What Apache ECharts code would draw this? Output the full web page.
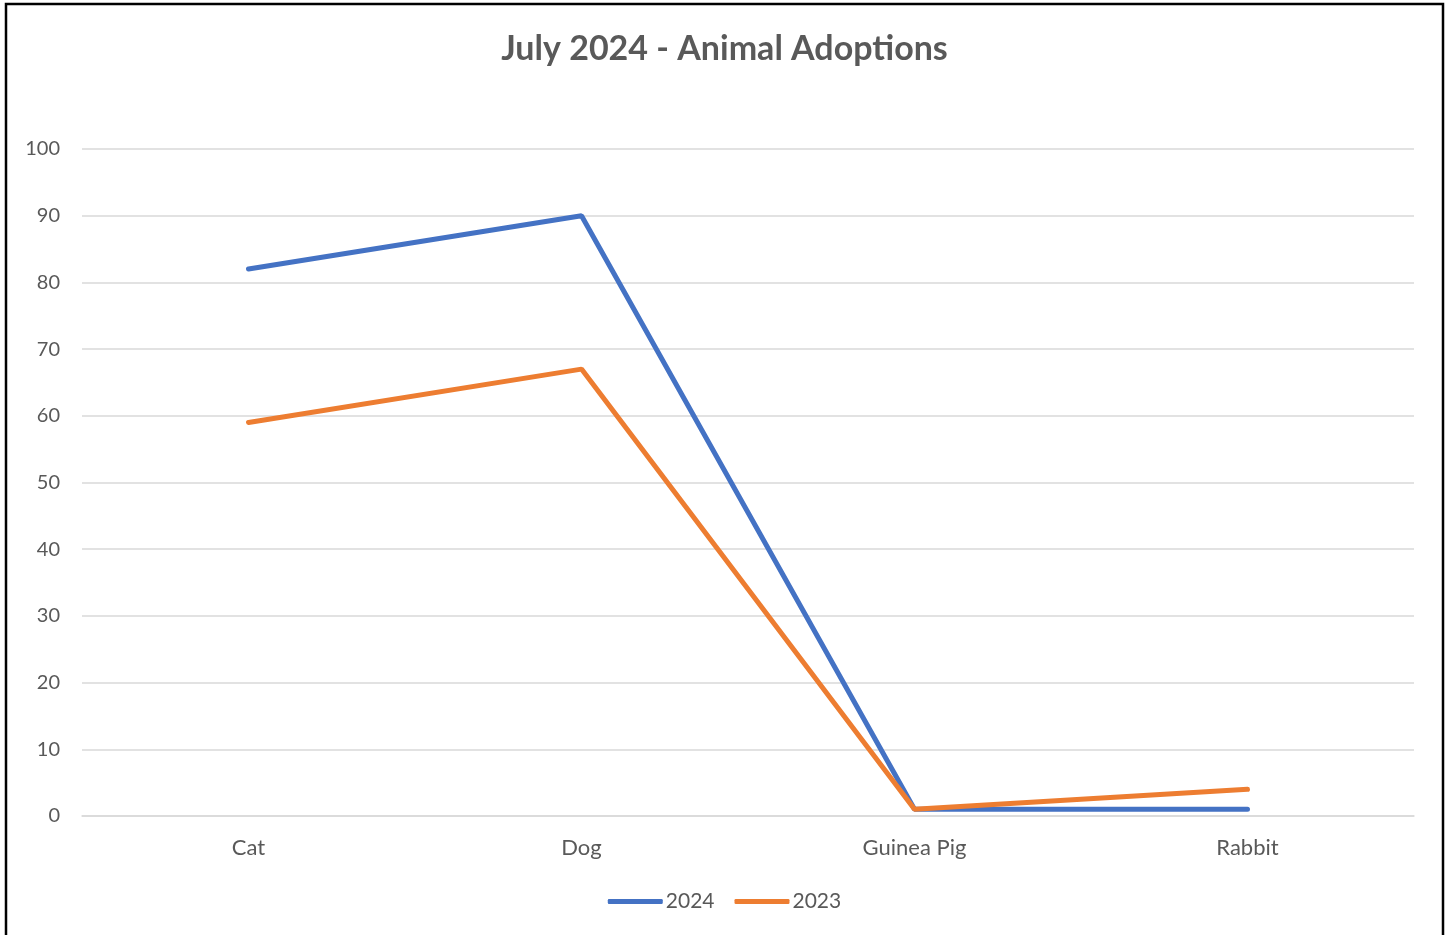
<!DOCTYPE html>
<html>
<head>
<meta charset="utf-8">
<script src="https://cdn.jsdelivr.net/npm/echarts@6/dist/echarts.min.js"></script>
<style>
html,body{margin:0;padding:0;background:#fff;}
#chart{width:1449px;height:935px;}
</style>
</head>
<body>
<div id="chart"></div>
<script>
const categories = ['Cat', 'Dog', 'Guinea Pig', 'Rabbit'];
const series2024 = [82, 90, 1, 1];
const series2023 = [59, 67, 1, 4];
const seriesNames = ['2024', '2023'];

const chart = echarts.init(document.getElementById('chart'));
const font = 'Lato, "Open Sans", sans-serif';
chart.setOption({
  animation: false,
  backgroundColor: '#ffffff',
  title: {
    text: 'July 2024 - Animal Adoptions',
    left: 'center',
    top: 27,
    textStyle: { fontFamily: font, fontSize: 34, fontWeight: 'bold', color: '#595959' }
  },
  legend: {
    data: seriesNames,
    left: 'center',
    top: 886,
    itemWidth: 55,
    itemHeight: 5,
    itemGap: 20,
    icon: 'roundRect',
    textStyle: { fontFamily: font, fontSize: 21, color: '#595959', padding: [0, 0, 0, -2] }
  },
  grid: { left: 82, right: 35, top: 149, bottom: 119, containLabel: false },
  xAxis: {
    type: 'category',
    data: categories,
    boundaryGap: true,
    axisLine: { lineStyle: { color: '#d9d9d9', width: 1.5 } },
    axisTick: { show: false },
    axisLabel: { fontFamily: font, fontSize: 22, color: '#595959', margin: 21 }
  },
  yAxis: {
    type: 'value',
    min: 0, max: 100, interval: 10,
    axisLine: { show: false },
    axisTick: { show: false },
    axisLabel: { fontFamily: font, fontSize: 20, color: '#595959', margin: 22 },
    splitLine: { lineStyle: { color: '#d9d9d9', width: 1.5 } }
  },
  series: [
    { name: seriesNames[0], type: 'line', data: series2024, symbol: 'none',
      lineStyle: { color: '#4472C4', width: 5, cap: 'round' }, itemStyle: { color: '#4472C4' } },
    { name: seriesNames[1], type: 'line', data: series2023, symbol: 'none',
      lineStyle: { color: '#ED7D31', width: 5, cap: 'round' }, itemStyle: { color: '#ED7D31' } }
  ],
  graphic: [{
    type: 'rect', shape: { x: 6, y: 4, width: 1437, height: 1000 },
    style: { fill: 'none', stroke: '#000', lineWidth: 2.5 }, silent: true
  }]
});
</script>
</body>
</html>
